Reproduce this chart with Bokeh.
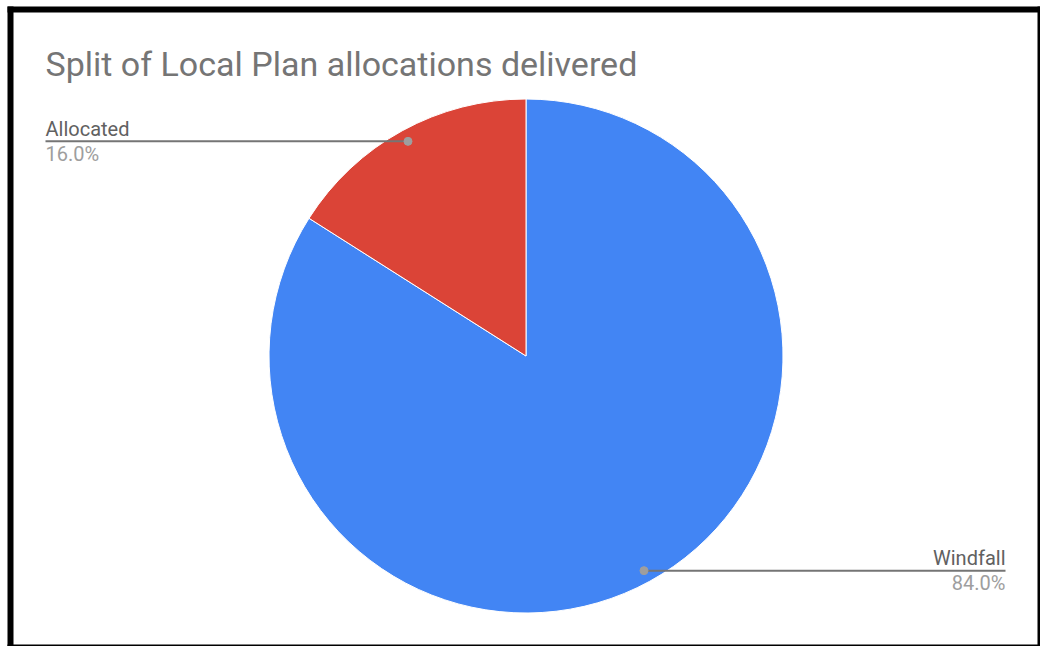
import math
from bokeh.plotting import figure
from bokeh.models import Range1d, ColumnDataSource
from bokeh.core.properties import value
from bokeh.embed import file_html
from bokeh.resources import INLINE

# ---- data ----
categories = ["Windfall", "Allocated"]
shares = [84.0, 16.0]
colors = ["#4285F4", "#DB4437"]
title_text = "Split of Local Plan allocations delivered"

W, H = 1040, 646
p = figure(width=W, height=H, output_backend="svg", toolbar_location=None,
           x_range=Range1d(0, W), y_range=Range1d(0, H), min_border=0)
p.axis.visible = False
p.grid.visible = False
p.outline_line_color = None
p.background_fill_color = "white"
p.border_fill_color = "white"

def Y(px):
    return H - px

FONT = value("Roboto")

# black frame
p.quad(left=[7, 7, 1037, 7], right=[13, 1040, 1040, 1040],
       top=[Y(6), Y(6), Y(6), Y(644)], bottom=[Y(646), Y(12), Y(646), Y(646)],
       fill_color="black", line_color=None)

# title
p.text(x=[45], y=[Y(63)], text=[title_text], text_font=FONT,
       text_font_size="34px", text_color="#757575", text_baseline="alphabetic")

# pie
cx, cy, R = 525.5, Y(355.5), 257.0
total = sum(shares)
starts, ends, mids = [], [], []
acc = 0.0
for s in shares:
    a0 = math.pi / 2 - 2 * math.pi * acc / total
    acc += s
    a1 = math.pi / 2 - 2 * math.pi * acc / total
    starts.append(a0)
    ends.append(a1)
    mids.append((a0 + a1) / 2)

src = ColumnDataSource(dict(start=starts, end=ends, color=colors, cat=categories))
p.wedge(x=cx, y=cy, radius=R, start_angle="start", end_angle="end",
        direction="clock", fill_color="color", line_color="white", line_width=1,
        source=src)

# leader lines and labels
rdot = 0.953 * R
for cat, s, m in zip(categories, shares, mids):
    dx = cx + rdot * math.cos(m)
    dy = cy + rdot * math.sin(m)
    if math.cos(m) < 0:
        lx, align = 45, "left"
    else:
        lx, align = 1005, "right"
    p.line(x=[dx, lx], y=[dy, dy], line_color="#757575", line_width=2)
    p.scatter(x=[dx], y=[dy], size=8, fill_color="#9e9e9e", line_color="#9e9e9e")
    p.text(x=[lx], y=[dy + 12.5], text=[cat], text_font=FONT, text_font_size="20px",
           text_color="#616161", text_align=align, text_baseline="alphabetic")
    p.text(x=[lx], y=[dy - 12.5], text=[f"{s / total * 100:.1f}%"], text_font=FONT,
           text_font_size="20px", text_color="#9e9e9e", text_align=align,
           text_baseline="alphabetic")

open("out.html", "w").write(file_html(p, INLINE))
